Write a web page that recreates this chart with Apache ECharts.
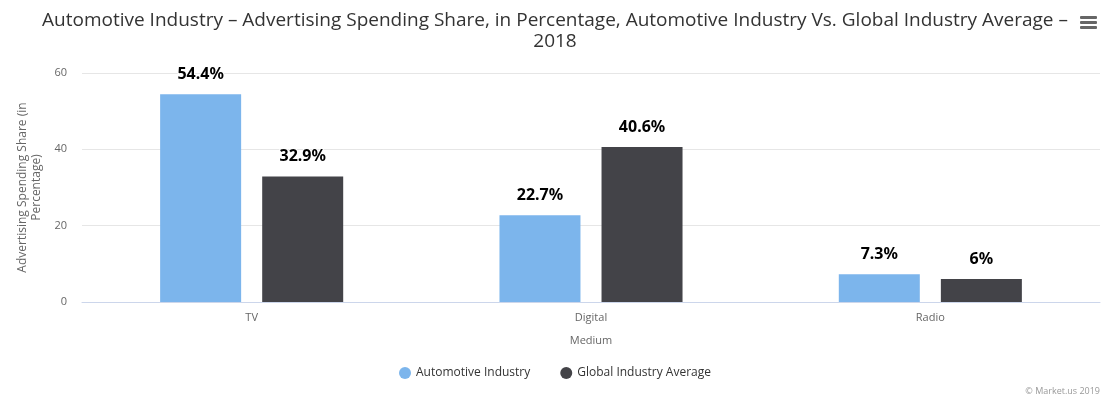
<!DOCTYPE html>
<html>
<head>
<meta charset="utf-8">
<script src="https://cdn.jsdelivr.net/npm/echarts@6/dist/echarts.min.js"></script>
<style>
  html, body { margin: 0; padding: 0; background: #fff; }
  #main { width: 1110px; height: 400px; }
</style>
</head>
<body>
<div id="main"></div>
<script>
// data
const categories = ['TV', 'Digital', 'Radio']
const automotive = [54.4, 22.7, 7.3]
const globalAvg = [32.9, 40.6, 6]
const seriesNames = ['Automotive Industry', 'Global Industry Average']

const chart = echarts.init(document.getElementById('main'))

// value labels above the bars
const barLabel = {
    show: true,
    position: 'top',
    distance: 12,
    formatter: '{c}%',
    color: '#000',
    fontSize: 16,
    fontWeight: 'bold',
    fontFamily: 'Noto Sans',
    textBorderColor: '#fff',
    textBorderWidth: 2
}

const option = {
    backgroundColor: '#fff',
    animation: false,
    title: {
        text: 'Automotive Industry – Advertising Spending Share, in Percentage, Automotive Industry Vs. Global Industry Average –\n2018',
        left: 550,
        top: 5,
        textAlign: 'center',
        textStyle: {
            color: '#333',
            fontSize: 19,
            fontWeight: 'normal',
            fontFamily: 'Open Sans',
            lineHeight: 21
        }
    },
    legend: {
        bottom: 16,
        left: 'center',
        icon: 'circle',
        itemWidth: 12,
        itemHeight: 12,
        itemGap: 30,
        textStyle: { color: '#333', fontSize: 12, fontFamily: 'Open Sans' },
        data: seriesNames
    },
    grid: { left: 82, right: 10, top: 73, bottom: 98, containLabel: false },
    xAxis: {
        type: 'category',
        data: categories,
        name: 'Medium',
        nameLocation: 'middle',
        nameGap: 33,
        nameTextStyle: { color: '#666', fontSize: 11, fontFamily: 'Open Sans' },
        axisLine: { lineStyle: { color: '#ccd6eb' } },
        axisTick: { show: false },
        axisLabel: { color: '#666', fontSize: 11, fontFamily: 'Open Sans', margin: 10 }
    },
    yAxis: {
        type: 'value',
        min: 0,
        max: 60,
        interval: 20,
        name: 'Advertising Spending Share (in\nPercentage)',
        nameLocation: 'middle',
        nameGap: 38,
        nameTextStyle: { color: '#666', fontSize: 12, fontFamily: 'Open Sans', lineHeight: 14 },
        axisLine: { show: false },
        axisTick: { show: false },
        axisLabel: { color: '#666', fontSize: 11, fontFamily: 'Open Sans', margin: 15 },
        splitLine: { lineStyle: { color: '#e6e6e6' } }
    },
    series: [
        {
            name: seriesNames[0],
            type: 'bar',
            data: automotive,
            itemStyle: { color: '#7cb5ec' },
            barWidth: 81,
            barGap: '26%',
            label: barLabel
        },
        {
            name: seriesNames[1],
            type: 'bar',
            data: globalAvg,
            itemStyle: { color: '#434348' },
            barWidth: 81,
            label: barLabel
        }
    ],
    graphic: [
        // menu icon
        { type: 'rect', right: 13, top: 16, shape: { width: 17, height: 3, r: 1 }, style: { fill: '#666' } },
        { type: 'rect', right: 13, top: 21, shape: { width: 17, height: 3, r: 1 }, style: { fill: '#666' } },
        { type: 'rect', right: 13, top: 26, shape: { width: 17, height: 3, r: 1 }, style: { fill: '#666' } },
        // credits
        {
            type: 'text', right: 10, bottom: 4,
            style: { text: '© Market.us 2019', fill: '#999', fontSize: 9, fontFamily: 'Open Sans' }
        }
    ]
}

chart.setOption(option)
</script>
</body>
</html>
